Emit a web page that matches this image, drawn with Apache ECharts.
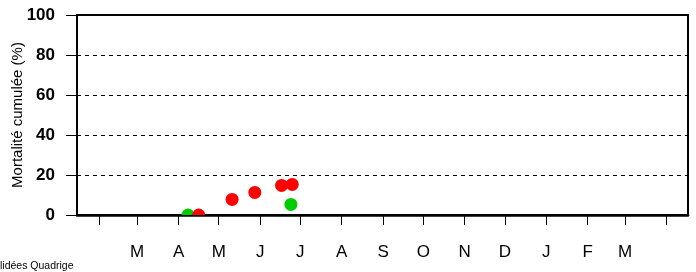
<!DOCTYPE html>
<html>
<head>
<meta charset="utf-8">
<script src="https://cdn.jsdelivr.net/npm/echarts@6/dist/echarts.min.js"></script>
<style>
  html, body { margin: 0; padding: 0; background: #fff; }
  #chart { width: 696px; height: 272px; }
</style>
</head>
<body>
<div id="chart"></div>
<script>
// début de chaque mois (graduations) et libellés
var monthStarts = ['2022-02-01', '2022-03-01', '2022-04-01', '2022-05-01', '2022-06-01',
  '2022-07-01', '2022-08-01', '2022-09-01', '2022-10-01', '2022-11-01', '2022-12-01',
  '2023-01-01', '2023-02-01', '2023-03-01', '2023-04-01'];
var monthLabels = ['', 'M', 'A', 'M', 'J', 'J', 'A', 'S', 'O', 'N', 'D', 'J', 'F', 'M', ''];
var axisStart = '2022-01-15';
var axisEnd = '2023-04-17';

// [date, mortalité cumulée %]
var redPoints = [['2022-04-16', 0], ['2022-05-11', 7.8], ['2022-05-28', 11.3],
  ['2022-06-17', 14.8], ['2022-06-25', 15.3]];
var greenPoints = [['2022-04-08', 0], ['2022-06-24', 5.3]];

// date -> jours depuis 1970 (valeur de l'axe)
function day(s) {
  var p = s.split('-');
  return Math.round(Date.UTC(+p[0], +p[1] - 1, +p[2]) / 86400000);
}

var tickVals = monthStarts.map(day);
var labelVals = tickVals.filter(function (v, i) { return monthLabels[i] !== ''; });

function dot(color) {
  return function (params, api) {
    var p = api.coord([api.value(0), api.value(1)]);
    return {
      type: 'circle',
      shape: { cx: p[0], cy: p[1], r: 6.5 },
      style: { fill: color }
    };
  };
}

var myChart = echarts.init(document.getElementById('chart'));

var option = {
  animation: false,
  grid: {
    left: 77,
    right: 8,
    top: 15,
    bottom: 57,
    outerBoundsMode: 'none',
    containLabel: false,
    show: true,
    borderColor: '#000',
    borderWidth: 2
  },
  xAxis: {
    type: 'value',
    min: day(axisStart),
    max: day(axisEnd),
    axisLine: { show: true, onZero: false, lineStyle: { color: '#000', width: 2.5 } },
    axisTick: {
      show: true,
      customValues: tickVals,
      length: 10,
      lineStyle: { color: '#000', width: 1 }
    },
    axisLabel: {
      customValues: labelVals,
      formatter: function (v) {
        var i = tickVals.indexOf(Math.round(v));
        return i >= 0 ? monthLabels[i] : '';
      },
      margin: 29,
      fontSize: 17,
      color: '#000',
      fontFamily: 'Liberation Sans, Arial, sans-serif'
    },
    splitLine: { show: false }
  },
  yAxis: {
    type: 'value',
    min: 0,
    max: 100,
    interval: 20,
    name: 'Mortalité cumulée (%)',
    nameLocation: 'middle',
    nameGap: 52,
    nameMoveOverlap: false,
    nameTextStyle: {
      fontSize: 15,
      color: '#000',
      fontFamily: 'Liberation Sans, Arial, sans-serif'
    },
    axisLine: { show: true, onZero: false, lineStyle: { color: '#000', width: 2 } },
    axisTick: { show: true, length: 11, lineStyle: { color: '#000', width: 1 } },
    axisLabel: {
      margin: 22,
      fontSize: 17,
      fontWeight: 'bold',
      color: '#000',
      fontFamily: 'Liberation Sans, Arial, sans-serif'
    },
    splitLine: {
      show: true,
      lineStyle: { color: '#000', type: [4, 4], width: 1 }
    }
  },
  graphic: [
    {
      type: 'text',
      left: 0,
      bottom: 0,
      style: {
        text: 'lidées Quadrige',
        fontSize: 10.5,
        fill: '#000',
        fontFamily: 'Liberation Sans, Arial, sans-serif'
      }
    }
  ],
  series: [
    {
      name: 'vert',
      type: 'custom',
      clip: true,
      renderItem: dot('#00cc00'),
      encode: { x: 0, y: 1 },
      data: greenPoints.map(function (d) { return [day(d[0]), d[1]]; })
    },
    {
      name: 'rouge',
      type: 'custom',
      clip: true,
      renderItem: dot('#ff0000'),
      encode: { x: 0, y: 1 },
      data: redPoints.map(function (d) { return [day(d[0]), d[1]]; })
    }
  ]
};

myChart.setOption(option);
</script>
</body>
</html>
